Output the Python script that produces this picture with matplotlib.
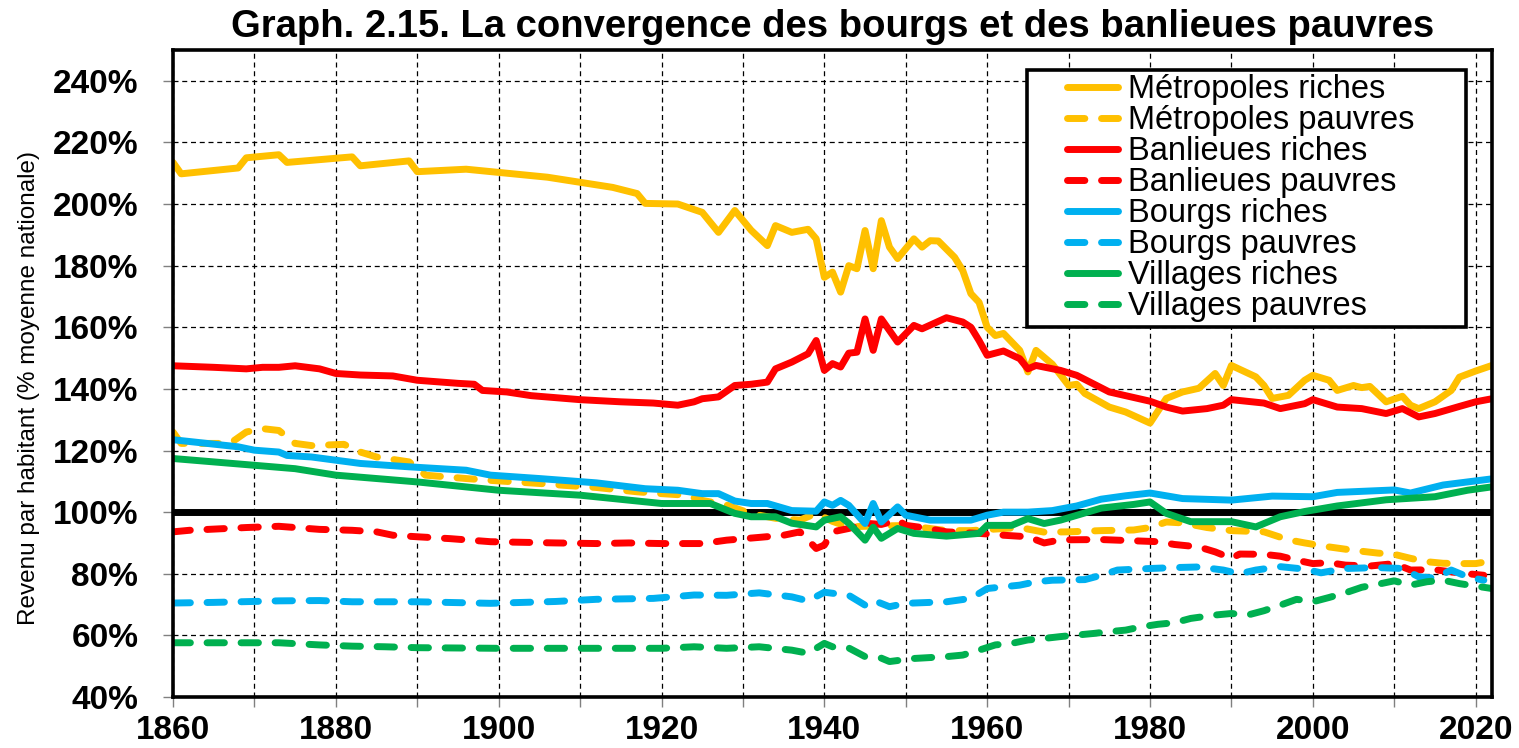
import matplotlib
matplotlib.use('Agg')
import matplotlib.pyplot as plt
from matplotlib.patches import Rectangle
from matplotlib.ticker import MultipleLocator, FuncFormatter

plt.rcParams['font.family'] = ['Liberation Sans', 'DejaVu Sans']

# ----- données (% de la moyenne nationale) -----
mr_years = [1860, 1861, 1868, 1869, 1873, 1874, 1882, 1883, 1889, 1890, 1896, 1906, 1914, 1917,
            1918, 1922, 1925, 1927, 1929, 1931, 1933, 1934, 1936, 1938, 1939, 1940, 1941, 1942,
            1943, 1944, 1945, 1946, 1947, 1948, 1949, 1951, 1952, 1953, 1954, 1956, 1957, 1958,
            1959, 1960, 1961, 1962, 1964, 1965, 1966, 1968, 1970, 1971, 1972, 1975, 1977, 1980,
            1982, 1984, 1986, 1988, 1989, 1990, 1993, 1994, 1995, 1997, 1999, 2000, 2002, 2003,
            2005, 2006, 2007, 2009, 2011, 2012, 2013, 2015, 2017, 2018, 2020, 2022]
mr_vals = [213.5, 209.8, 211.7, 215.0, 216.0, 213.5, 215.3, 212.4, 214.0, 210.5, 211.3, 208.7, 205.4, 203.4,
           200.2, 200.0, 197.3, 190.8, 197.9, 191.5, 186.5, 193.0, 190.8, 191.8, 188.7, 176.2, 177.9, 171.4,
           180.0, 179.0, 191.4, 179.0, 194.6, 186.0, 182.3, 188.7, 186.0, 188.1, 188.0, 182.7, 178.4, 170.9,
           168.1, 160.0, 157.3, 158.0, 152.5, 145.5, 152.5, 148.0, 141.1, 141.5, 138.5, 134.1, 132.5, 128.9,
           136.9, 139.0, 140.2, 145.0, 141.1, 147.6, 143.9, 141.1, 136.9, 137.9, 142.8, 144.4, 142.8, 139.5,
           141.1, 140.4, 140.8, 135.8, 137.6, 134.7, 133.6, 135.8, 139.5, 143.8, 145.8, 147.6]

mp_years = [1860, 1861, 1867, 1869, 1871, 1873, 1875, 1877, 1881, 1883, 1885, 1889, 1891, 1896, 1899,
            1905, 1908, 1912, 1917, 1920, 1923, 1925, 1928, 1931, 1934, 1937, 1939, 1941, 1943, 1946,
            1949, 1952, 1955, 1958, 1961, 1964, 1967, 1970, 1974, 1978, 1980, 1982, 1984, 1987, 1990,
            1994, 1997, 1999, 2002, 2005, 2008, 2010, 2012, 2014, 2016, 2018, 2020, 2022]
mp_vals = [126.0, 122.3, 122.3, 126.0, 127.1, 126.5, 122.3, 121.6, 122.0, 119.5, 117.9, 116.3, 112.0, 110.9, 110.3,
           109.3, 108.7, 108.0, 106.6, 106.0, 105.5, 103.8, 102.3, 99.5, 98.0, 97.4, 99.6, 97.0, 95.2, 95.5,
           95.6, 95.0, 94.0, 94.0, 94.5, 95.0, 93.5, 93.6, 94.0, 94.2, 95.0, 96.8, 96.5, 95.0, 94.0,
           93.6, 91.0, 90.0, 88.7, 87.6, 86.7, 86.3, 85.0, 83.9, 83.4, 83.3, 83.3, 84.2]

br_years = [1860, 1865, 1869, 1871, 1873, 1875, 1878, 1880, 1883, 1887, 1890, 1895, 1897, 1898, 1901,
            1904, 1910, 1915, 1919, 1922, 1924, 1925, 1927, 1929, 1931, 1933, 1934, 1936, 1938, 1939,
            1940, 1941, 1942, 1943, 1944, 1945, 1946, 1947, 1949, 1951, 1952, 1955, 1957, 1958, 1959,
            1960, 1962, 1964, 1965, 1966, 1969, 1971, 1975, 1980, 1982, 1984, 1987, 1989, 1990, 1994,
            1996, 1999, 2000, 2003, 2006, 2009, 2011, 2013, 2015, 2018, 2020, 2022]
br_vals = [147.5, 147.0, 146.5, 147.0, 147.0, 147.5, 146.5, 145.0, 144.5, 144.2, 142.8, 141.8, 141.5, 139.5, 139.0,
           137.8, 136.5, 135.8, 135.4, 134.7, 135.8, 136.8, 137.4, 141.1, 141.5, 142.2, 146.5, 148.7, 151.4, 155.7,
           146.0, 148.2, 147.1, 151.6, 151.9, 162.7, 152.5, 162.7, 155.2, 160.6, 159.5, 163.1, 161.7, 160.0, 155.7,
           150.9, 152.3, 149.8, 146.5, 147.6, 146.0, 144.4, 139.0, 136.0, 134.1, 132.8, 133.6, 134.7, 136.5, 135.4,
           133.6, 135.2, 136.5, 134.1, 133.6, 132.0, 133.6, 130.9, 132.0, 134.3, 135.8, 136.8]

bp_years = [1860, 1862, 1869, 1873, 1878, 1882, 1885, 1887, 1890, 1894, 1899, 1907, 1912, 1916, 1920,
            1925, 1928, 1932, 1935, 1937, 1938, 1939, 1940, 1941, 1943, 1945, 1947, 1949, 1950, 1952,
            1955, 1959, 1962, 1965, 1967, 1969, 1974, 1978, 1981, 1983, 1986, 1988, 1990, 1991, 1994,
            1996, 1998, 2000, 2002, 2004, 2007, 2010, 2012, 2015, 2017, 2019, 2021]
bp_vals = [93.6, 94.1, 95.0, 95.4, 94.4, 94.1, 93.6, 92.5, 92.0, 91.4, 90.4, 90.0, 89.8, 90.0, 89.8,
           89.8, 90.9, 91.8, 92.5, 93.6, 90.9, 88.2, 89.3, 93.6, 94.7, 96.4, 96.0, 97.4, 95.7, 95.0,
           93.6, 93.1, 92.5, 92.0, 90.0, 91.0, 91.1, 90.7, 90.4, 89.5, 88.7, 87.1, 85.0, 86.4, 86.3,
           85.7, 84.4, 83.3, 83.6, 82.8, 82.5, 83.3, 81.2, 81.3, 80.6, 80.0, 79.5]

bgr_years = [1860, 1868, 1870, 1873, 1874, 1877, 1883, 1889, 1896, 1899, 1905, 1912, 1918, 1922, 1925,
             1927, 1929, 1931, 1933, 1936, 1939, 1940, 1941, 1942, 1943, 1945, 1946, 1947, 1949, 1950,
             1953, 1958, 1960, 1962, 1965, 1968, 1971, 1974, 1977, 1980, 1984, 1990, 1995, 2000, 2003,
             2010, 2012, 2016, 2019, 2022]
bgr_vals = [123.5, 121.2, 120.1, 119.5, 118.4, 117.9, 115.8, 114.7, 113.6, 112.0, 110.9, 109.5, 107.6, 107.1, 106.0,
            106.0, 103.6, 102.8, 102.8, 100.5, 100.3, 103.3, 102.2, 103.8, 102.2, 96.3, 102.8, 96.8, 101.7, 99.0,
            97.4, 97.4, 99.0, 100.0, 100.0, 100.5, 102.0, 104.2, 105.3, 106.2, 104.4, 103.9, 105.2, 105.0, 106.4,
            107.2, 106.2, 108.8, 109.8, 110.8]

bgp_years = [1860, 1865, 1873, 1878, 1882, 1890, 1899, 1907, 1912, 1919, 1924, 1928, 1932, 1936, 1938,
             1940, 1943, 1945, 1946, 1948, 1950, 1955, 1958, 1960, 1964, 1966, 1968, 1972, 1974, 1976,
             1980, 1983, 1986, 1989, 1991, 1993, 1996, 1999, 2001, 2004, 2008, 2011, 2013, 2015, 2017,
             2019, 2021]
bgp_vals = [70.5, 70.7, 71.2, 71.3, 70.9, 70.9, 70.4, 71.0, 71.7, 72.0, 73.1, 73.0, 73.8, 72.5, 71.2,
            74.0, 73.0, 69.8, 71.4, 69.3, 70.4, 70.9, 72.0, 75.2, 76.3, 77.4, 77.9, 78.1, 79.5, 81.2,
            81.7, 82.0, 82.2, 81.2, 80.0, 81.2, 82.3, 81.5, 80.3, 81.7, 82.0, 81.7, 79.0, 78.6, 81.2,
            79.0, 77.9]

vr_years = [1860, 1870, 1875, 1880, 1890, 1900, 1910, 1920, 1926, 1929, 1931, 1934, 1936, 1939, 1940,
            1942, 1943, 1945, 1946, 1947, 1949, 1951, 1955, 1959, 1960, 1963, 1965, 1967, 1969, 1974,
            1978, 1980, 1982, 1985, 1990, 1993, 1996, 1999, 2003, 2009, 2015, 2019, 2022]
vr_vals = [117.4, 115.2, 114.1, 112.0, 109.8, 107.1, 105.5, 102.8, 102.8, 99.6, 98.5, 98.5, 96.4, 95.2, 97.4,
           98.5, 96.4, 90.9, 95.1, 91.5, 94.7, 93.1, 92.2, 93.1, 95.7, 95.7, 97.9, 96.3, 97.4, 101.3,
           102.5, 103.3, 99.6, 96.9, 96.9, 95.2, 98.5, 100.2, 102.0, 104.0, 105.0, 107.1, 108.2]

vp_years = [1860, 1870, 1873, 1878, 1882, 1886, 1890, 1900, 1910, 1920, 1924, 1928, 1932, 1936, 1938,
            1940, 1941, 1943, 1945, 1947, 1948, 1951, 1955, 1957, 1959, 1961, 1963, 1965, 1967, 1969,
            1971, 1973, 1975, 1977, 1979, 1981, 1983, 1985, 1988, 1990, 1992, 1994, 1996, 1998, 2000,
            2002, 2004, 2006, 2008, 2010, 2012, 2014, 2016, 2018, 2020, 2022]
vp_vals = [57.6, 57.6, 57.6, 56.9, 56.5, 56.3, 56.0, 55.8, 55.8, 55.8, 56.3, 55.8, 56.3, 55.2, 54.2,
           57.4, 56.3, 55.9, 53.1, 52.6, 51.5, 52.5, 53.1, 53.6, 55.2, 56.9, 57.4, 58.5, 59.0, 59.6,
           60.1, 60.6, 61.2, 61.7, 62.8, 63.6, 64.1, 65.5, 66.6, 67.1, 66.6, 68.0, 69.8, 71.7, 70.9,
           72.3, 73.8, 75.6, 76.6, 77.7, 76.3, 77.4, 77.9, 76.8, 76.0, 75.2]

ORANGE = '#FFC000'
RED = '#FF0000'
BLUE = '#00B0F0'
GREEN = '#00B050'

series = [
    ('Métropoles riches', mr_years, mr_vals, ORANGE, False),
    ('Métropoles pauvres', mp_years, mp_vals, ORANGE, True),
    ('Banlieues riches', br_years, br_vals, RED, False),
    ('Banlieues pauvres', bp_years, bp_vals, RED, True),
    ('Bourgs riches', bgr_years, bgr_vals, BLUE, False),
    ('Bourgs pauvres', bgp_years, bgp_vals, BLUE, True),
    ('Villages riches', vr_years, vr_vals, GREEN, False),
    ('Villages pauvres', vp_years, vp_vals, GREEN, True),
]

fig = plt.figure(figsize=(15.19, 7.48), dpi=100)
ax = fig.add_axes([0.1139, 0.0682, 0.9822 - 0.1139, 0.9332 - 0.0682])

ax.axhline(100, color='black', linewidth=5, zorder=1.5)

for label, xs, ys, col, dashed in series:
    if dashed:
        ax.plot(xs, ys, color=col, linewidth=5, dashes=(2.5, 2.4),
                dash_capstyle='round', solid_capstyle='round', label=label, zorder=2)
    else:
        ax.plot(xs, ys, color=col, linewidth=5, solid_capstyle='round',
                solid_joinstyle='round', label=label, zorder=2)

ax.set_xlim(1860, 2022)
ax.set_ylim(40, 250)
ax.xaxis.set_major_locator(MultipleLocator(20))
ax.xaxis.set_minor_locator(MultipleLocator(10))
ax.yaxis.set_major_locator(MultipleLocator(20))
ax.yaxis.set_major_formatter(FuncFormatter(lambda v, p: f'{v:.0f}%'))

ax.grid(True, which='both', color='black', linestyle=(0, (4, 3)), linewidth=0.9, zorder=0)
ax.set_axisbelow(True)

for s in ax.spines.values():
    s.set_linewidth(2.6)
    s.set_color('black')

ax.tick_params(axis='both', which='both', direction='out', length=7, width=1, color='gray',
               labelsize=24)
ax.tick_params(axis='y', pad=18)
ax.tick_params(axis='x', pad=6)
for t in ax.get_xticklabels() + ax.get_yticklabels():
    t.set_fontweight('bold')

ax.set_ylabel('Revenu par habitant (% moyenne nationale)', fontsize=17.5)
ax.yaxis.set_label_coords(-0.1008, 0.478)

ax.set_title('Graph. 2.15. La convergence des bourgs et des banlieues pauvres',
             fontsize=27.5, fontweight='bold', pad=9)

# cadre de la légende (plus large que le contenu, comme l'original)
box = Rectangle((0.6475, 0.5719), 0.9803 - 0.6475, 0.9691 - 0.5719, transform=ax.transAxes,
                facecolor='white', edgecolor='black', linewidth=2.6, zorder=4)
ax.add_patch(box)

leg = ax.legend(loc='center left', bbox_to_anchor=(0.678, 0.7705), borderaxespad=0,
                fontsize=23.5, frameon=False,
                handlelength=1.55, handletextpad=0.3, labelspacing=0.0,
                borderpad=0)
leg.set_zorder(5)

fig.savefig('out.png', dpi=100)
